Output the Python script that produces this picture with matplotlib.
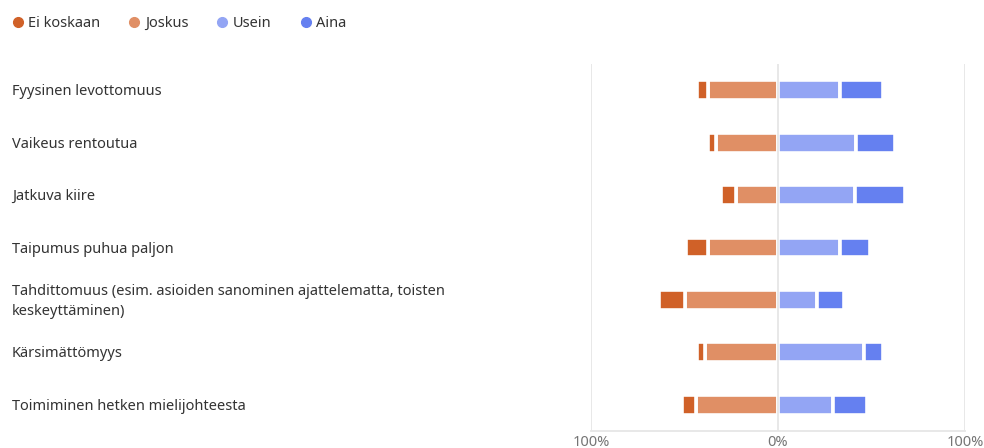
import matplotlib.pyplot as plt
from matplotlib.lines import Line2D
from matplotlib.transforms import blended_transform_factory

plt.rcParams['font.family'] = ['Noto Sans', 'DejaVu Sans']

# Data (percent of answers)
categories = [
    "Fyysinen levottomuus",
    "Vaikeus rentoutua",
    "Jatkuva kiire",
    "Taipumus puhua paljon",
    "Tahdittomuus (esim. asioiden sanominen ajattelematta, toisten\nkeskeyttäminen)",
    "Kärsimättömyys",
    "Toimiminen hetken mielijohteesta",
]
ei_koskaan = [6.1, 4.0, 8.0, 12.0, 14.2, 4.5, 8.0]
joskus = [37.4, 33.2, 22.7, 37.4, 49.7, 39.0, 43.6]
usein = [33.4, 41.7, 41.4, 33.4, 20.9, 46.0, 29.4]
aina = [23.0, 20.6, 26.5, 16.0, 14.2, 9.9, 18.4]

series_names = ["Ei koskaan", "Joskus", "Usein", "Aina"]
colors = ["#D06128", "#E08F65", "#93A5F4", "#6580F0"]
tick_pos = [-100, 0, 100]
tick_labels = ["100%", "0%", "100%"]

fig = plt.figure(figsize=(9.84, 4.48), dpi=100)
ax = fig.add_axes([591 / 984, 17 / 448, 374 / 984, 367 / 448])

y = list(range(len(categories)))
h = 0.38
bar_kw = dict(height=h, edgecolor="white", linewidth=2.6, zorder=3)

# negative side: Joskus next to zero, Ei koskaan outside
ax.barh(y, [-v for v in joskus], left=0, color=colors[1], **bar_kw)
ax.barh(y, [-v for v in ei_koskaan], left=[-v for v in joskus], color=colors[0], **bar_kw)
# positive side: Usein next to zero, Aina outside
ax.barh(y, usein, left=0, color=colors[2], **bar_kw)
ax.barh(y, aina, left=usein, color=colors[3], **bar_kw)

for xp in tick_pos:
    ax.axvline(xp, color="#e6e6e6", lw=1.3, zorder=1 if xp else 4)

ax.set_xlim(-100, 100)
ax.set_ylim(len(categories) - 0.5, -0.5)
ax.set_xticks(tick_pos)
ax.set_xticklabels(tick_labels)
ax.tick_params(axis="x", length=0, pad=3, labelsize=10.5, labelcolor="#757575")
ax.set_yticks([])
for s in ["top", "left", "right"]:
    ax.spines[s].set_visible(False)
ax.spines["bottom"].set_color("#e6e6e6")
ax.spines["bottom"].set_linewidth(1.3)

# category labels at the left edge of the figure
trans = blended_transform_factory(fig.transFigure, ax.transData)
for yi, label in zip(y, categories):
    ax.text(12 / 984, yi + 0.03, label, transform=trans, ha="left", va="center",
            fontsize=10.5, color="#333333", linespacing=1.5, clip_on=False)

handles = [Line2D([], [], marker="o", linestyle="", markersize=7, color=c) for c in colors]
fig.legend(handles, series_names, loc="upper left", bbox_to_anchor=(-4 / 984, 1 - 3 / 448),
           ncol=4, frameon=False, fontsize=10.5, handletextpad=0.1, columnspacing=1.75,
           handlelength=1.2, labelcolor="#333333")

fig.savefig("out.png", dpi=100)
